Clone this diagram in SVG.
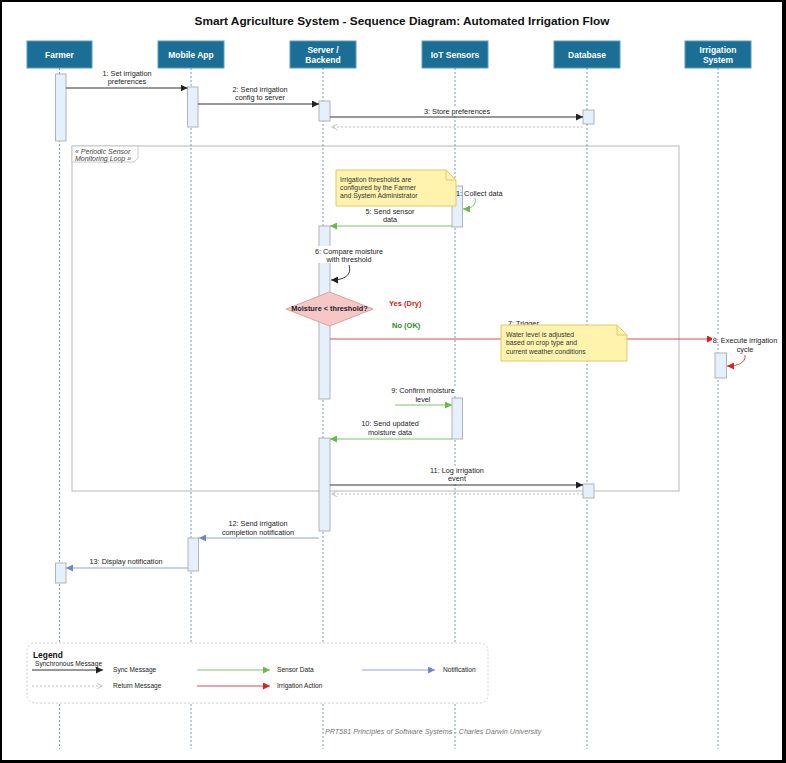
<svg xmlns="http://www.w3.org/2000/svg" width="786" height="763" viewBox="0 0 786 763">
<defs>
<style>
.t{font-family:"Liberation Sans",Arial,sans-serif;font-size:7.3px;fill:#222;text-anchor:middle}
.ts{font-family:"Liberation Sans",Arial,sans-serif;font-size:7.3px;fill:#222}
.hd{font-family:"Liberation Sans",Arial,sans-serif;font-size:8.5px;font-weight:bold;fill:#fff;text-anchor:middle}
.box{fill:#1b6e95;stroke:#5b9cbd;stroke-width:1}
.life{stroke:#6f9fc2;stroke-width:1;stroke-dasharray:2,2;fill:none}
.bar{fill:#e4f0fb;stroke:#b3b3b3;stroke-width:1}
.sync{stroke:#333;stroke-width:1;fill:none;marker-end:url(#aBlack)}
.ret{stroke:#bbb;stroke-width:1;stroke-dasharray:2,2;fill:none;marker-end:url(#aRet)}
.sens{stroke:#7fc46b;stroke-width:1;fill:none;marker-end:url(#aGreen)}
.note{fill:#fff3ad;stroke:#e2c76a;stroke-width:1}
.nt{font-family:"Liberation Sans",Arial,sans-serif;font-size:6.8px;fill:#333}
.notif{stroke:#90a3d6;stroke-width:1;fill:none;marker-end:url(#aBlue)}
.irr{stroke:#e04848;stroke-width:1;fill:none;marker-end:url(#aRed)}
.lbg{fill:#fff}
.lg{font-family:"Liberation Sans",Arial,sans-serif;font-size:6.6px;fill:#222}
</style>
<marker id="aBlack" viewBox="0 0 10 10" refX="10" refY="5" markerWidth="7" markerHeight="7" markerUnits="userSpaceOnUse" orient="auto"><path d="M0,0 L10,5 L0,10 z" fill="#222"/></marker>
<marker id="aGreen" viewBox="0 0 10 10" refX="10" refY="5" markerWidth="7" markerHeight="7" markerUnits="userSpaceOnUse" orient="auto"><path d="M0,0 L10,5 L0,10 z" fill="#6ab64f"/></marker>
<marker id="aBlue" viewBox="0 0 10 10" refX="10" refY="5" markerWidth="7" markerHeight="7" markerUnits="userSpaceOnUse" orient="auto"><path d="M0,0 L10,5 L0,10 z" fill="#6f87c9"/></marker>
<marker id="aRed" viewBox="0 0 10 10" refX="10" refY="5" markerWidth="7" markerHeight="7" markerUnits="userSpaceOnUse" orient="auto"><path d="M0,0 L10,5 L0,10 z" fill="#dd1f1f"/></marker>
<marker id="aRet" viewBox="0 0 10 10" refX="10" refY="5" markerWidth="7" markerHeight="7" markerUnits="userSpaceOnUse" orient="auto"><path d="M1,1 L9,5 L1,9" fill="none" stroke="#bbb" stroke-width="1.2"/></marker>
</defs>
<rect x="0" y="0" width="786" height="763" fill="#000"/>
<rect x="2" y="2" width="780" height="758" fill="#fff"/>
<text x="402" y="25" font-family="Liberation Sans,Arial,sans-serif" font-size="11.5" font-weight="bold" fill="#111" text-anchor="middle" textLength="415" lengthAdjust="spacingAndGlyphs">Smart Agriculture System - Sequence Diagram: Automated Irrigation Flow</text>

<g id="loop">
<rect x="72" y="146" width="607" height="345" fill="none" stroke="#c8c8c8" stroke-width="1.3"/>
<polygon points="72,146 138,146 138,158 134,162 72,162" fill="#fff" stroke="#c8c8c8" stroke-width="1"/>
<text x="75" y="153.5" font-family="Liberation Sans,Arial,sans-serif" font-size="7" font-style="italic" fill="#444">« Periodic Sensor</text>
<text x="75" y="160.5" font-family="Liberation Sans,Arial,sans-serif" font-size="7" font-style="italic" fill="#444">Monitoring Loop »</text>
</g>

<g id="lifelines">
<line class="life" x1="59.5" y1="68" x2="59.5" y2="749"/>
<line class="life" x1="191" y1="68" x2="191" y2="749"/>
<line class="life" x1="323" y1="68" x2="323" y2="749"/>
<line class="life" x1="455" y1="68" x2="455" y2="749"/>
<line class="life" x1="587" y1="68" x2="587" y2="749"/>
<line class="life" x1="718" y1="68" x2="718" y2="749"/>
</g>

<g id="farmer"><rect class="box" x="27" y="41" width="65" height="27"/><text class="hd" x="59.5" y="57.5">Farmer</text></g>
<g id="mobile-app"><rect class="box" x="158" y="41" width="66" height="27"/><text class="hd" x="191" y="57.5">Mobile App</text></g>
<g id="server"><rect class="box" x="290" y="41" width="66" height="27"/><text class="hd" x="323" y="52.5">Server /</text><text class="hd" x="323" y="62.5">Backend</text></g>
<g id="iot-sensors"><rect class="box" x="422" y="41" width="66" height="27"/><text class="hd" x="455" y="57.5">IoT Sensors</text></g>
<g id="database"><rect class="box" x="554" y="41" width="66" height="27"/><text class="hd" x="587" y="57.5">Database</text></g>
<g id="irrigation-system"><rect class="box" x="685" y="41" width="66" height="27"/><text class="hd" x="718" y="52.5">Irrigation</text><text class="hd" x="718" y="62.5">System</text></g>

<g id="activations">
<rect class="bar" x="55.5" y="74" width="10.5" height="67"/>
<rect class="bar" x="187.5" y="87" width="10.5" height="40"/>
<rect class="bar" x="319" y="101" width="11" height="20"/>
<rect class="bar" x="583" y="110" width="11" height="14"/>
<rect class="bar" x="452" y="186" width="10.5" height="41"/>
<rect class="bar" x="319" y="226" width="11" height="173"/>
<rect class="bar" x="715" y="353" width="11.5" height="25"/>
<rect class="bar" x="452" y="398" width="10.5" height="41"/>
<rect class="bar" x="319" y="438" width="11" height="93"/>
<rect class="bar" x="583" y="484" width="11" height="14"/>
<rect class="bar" x="188" y="538" width="10.5" height="33"/>
<rect class="bar" x="55.5" y="563" width="10.5" height="20"/>
</g>

<g id="connectors">
<line class="sync" x1="66" y1="88" x2="187.5" y2="88"/>
<line class="sync" x1="198" y1="104" x2="319" y2="104"/>
<line class="sync" x1="330" y1="117" x2="583" y2="117"/>
<line class="ret" x1="583" y1="127" x2="331" y2="127"/>
<path class="sens" d="M475,198 C477,205 471,209 463,209"/>
<line class="sens" x1="452" y1="226" x2="330" y2="226"/>
<path class="sync" d="M349,265 C352,275 345,280 331,280"/>
<line class="irr" x1="330" y1="339" x2="714" y2="339"/>
<path class="irr" d="M745,355 C746,363 738,366 727,366"/>
<line class="sens" x1="395" y1="405" x2="452" y2="405"/>
<line class="sens" x1="452" y1="439" x2="330" y2="439"/>
<line class="sync" x1="330" y1="485" x2="583" y2="485"/>
<line class="ret" x1="583" y1="494" x2="331" y2="494"/>
<line class="notif" x1="319" y1="538" x2="199" y2="538"/>
<line class="notif" x1="188" y1="568" x2="66" y2="568"/>
</g>

<g id="labels">
<text class="t" x="127" y="75.6">1: Set irrigation</text>
<text class="t" x="127" y="83.6">preferences</text>
<text class="t" x="260" y="91.6">2: Send irrigation</text>
<text class="t" x="260" y="99.6">config to server</text>
<rect class="lbg" x="424" y="107" width="66" height="8"/>
<text class="t" x="457" y="113.6">3: Store preferences</text>
<text class="ts" x="456" y="195.6">1: Collect data</text>
<text class="t" x="390" y="213.6">5: Send sensor</text>
<text class="t" x="390" y="221.6">data</text>
<rect class="lbg" x="314" y="246" width="70" height="17"/>
<text class="t" x="349" y="253.6">6: Compare moisture</text>
<text class="t" x="349" y="261.6">with threshold</text>
<text class="ts" x="508" y="325.6">7: Trigger</text>
<rect class="lbg" x="712" y="336" width="66" height="8"/>
<text class="t" x="745" y="342.6">8: Execute irrigation</text>
<text class="t" x="745" y="351.6">cycle</text>
<rect class="lbg" x="390" y="386" width="66" height="8"/>
<text class="t" x="423" y="392.6">9: Confirm moisture</text>
<text class="t" x="423" y="401.6">level</text>
<text class="t" x="390" y="425.6">10: Send updated</text>
<text class="t" x="390" y="434.6">moisture data</text>
<rect class="lbg" x="431" y="466" width="54" height="16"/>
<text class="t" x="457" y="472.6">11: Log irrigation</text>
<text class="t" x="457" y="480.6">event</text>
<text class="t" x="258" y="525.6">12: Send irrigation</text>
<text class="t" x="258" y="534.6">completion notification</text>
<text class="t" x="126" y="563.6">13: Display notification</text>
</g>

<g id="note-thresholds">
<path class="note" d="M336,170 L446,170 L456,180 L456,206 L336,206 Z"/>
<path d="M446,170 L446,180 L456,180" fill="none" stroke="#e2c76a" stroke-width="1"/>
<text class="nt" x="340" y="182.4">Irrigation thresholds are</text>
<text class="nt" x="340" y="190.4">configured by the Farmer</text>
<text class="nt" x="340" y="198.4">and System Administrator</text>
</g>

<g id="decision">
<polygon points="329.5,292 373,309 329.5,326 286,309" fill="#f6c7c7" stroke="#dca0a0" stroke-width="1"/>
<text x="329.5" y="310.6" font-family="Liberation Sans,Arial,sans-serif" font-size="7.3" font-weight="bold" fill="#222" text-anchor="middle">Moisture &lt; threshold?</text>
<text x="389" y="305.7" font-family="Liberation Sans,Arial,sans-serif" font-size="7.5" font-weight="bold" fill="#d42020">Yes (Dry)</text>
<text x="392" y="327.7" font-family="Liberation Sans,Arial,sans-serif" font-size="7.5" font-weight="bold" fill="#2e8a1e">No (OK)</text>
</g>

<g id="note-water">
<path class="note" d="M501,325 L617,325 L627,335 L627,361 L501,361 Z"/>
<path d="M617,325 L617,335 L627,335" fill="none" stroke="#e2c76a" stroke-width="1"/>
<text class="nt" x="506" y="337.4">Water level is adjusted</text>
<text class="nt" x="506" y="345.4">based on crop type and</text>
<text class="nt" x="506" y="354.4">current weather conditions</text>
</g>

<g id="legend">
<rect x="27" y="643" width="461" height="60" rx="8" ry="8" fill="#fff" stroke="#d0d0d0" stroke-width="1" stroke-dasharray="2,2"/>
<text x="33" y="658" font-family="Liberation Sans,Arial,sans-serif" font-size="8.4" font-weight="bold" fill="#111">Legend</text>
<text class="lg" x="35" y="666.3">Synchronous Message</text>
<line class="sync" x1="32" y1="670" x2="103" y2="670"/>
<text class="lg" x="113" y="672.4">Sync Message</text>
<line class="sens" x1="197" y1="670" x2="270" y2="670"/>
<text class="lg" x="277" y="672.4">Sensor Data</text>
<line class="notif" x1="362" y1="670" x2="435" y2="670"/>
<text class="lg" x="443" y="672.4">Notification</text>
<line class="ret" x1="32" y1="686" x2="103" y2="686"/>
<text class="lg" x="113" y="688.4">Return Message</text>
<line class="irr" x1="197" y1="686" x2="270" y2="686"/>
<text class="lg" x="277" y="688.4">Irrigation Action</text>
</g>

<text x="325" y="733.5" font-family="Liberation Sans,Arial,sans-serif" font-size="7.2" font-style="italic" fill="#777">PRT581 Principles of Software Systems - Charles Darwin University</text>
</svg>
